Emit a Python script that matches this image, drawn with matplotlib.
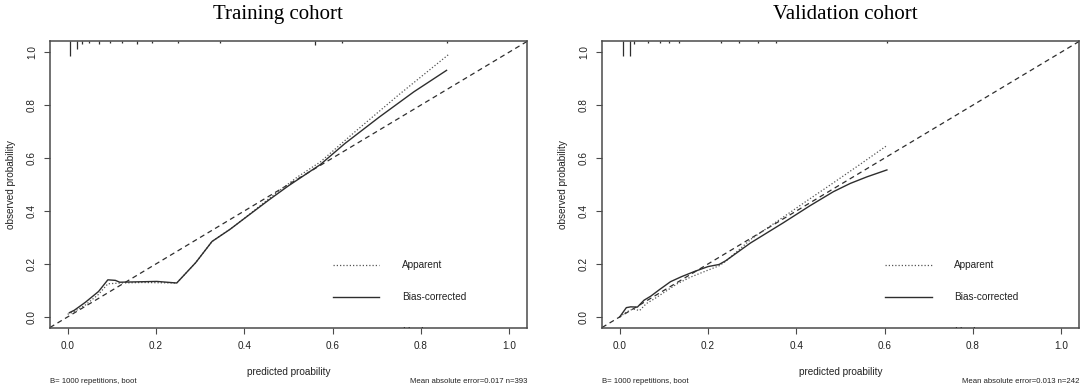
import matplotlib
matplotlib.use("Agg")
import numpy as np
import matplotlib.pyplot as plt

# --- values ---
# training cohort
train_app_x = [0.0, 0.015, 0.04, 0.07, 0.091, 0.12, 0.17, 0.247, 0.29, 0.327, 0.37, 0.40, 0.46, 0.52, 0.572, 0.65, 0.75, 0.862]
train_app_y = [0.010, 0.020, 0.045, 0.085, 0.125, 0.128, 0.130, 0.128, 0.205, 0.285, 0.334, 0.372, 0.452, 0.528, 0.585, 0.698, 0.839, 0.990]
train_bc_x = [0.004, 0.015, 0.040, 0.070, 0.091, 0.108, 0.118, 0.202, 0.247, 0.29, 0.327, 0.368, 0.394, 0.456, 0.50, 0.572, 0.628, 0.706, 0.784, 0.858]
train_bc_y = [0.016, 0.025, 0.055, 0.096, 0.140, 0.138, 0.131, 0.134, 0.128, 0.205, 0.285, 0.331, 0.364, 0.442, 0.495, 0.575, 0.655, 0.755, 0.850, 0.931]
train_rug_x = [0.0045, 0.021, 0.033, 0.048, 0.072, 0.097, 0.123, 0.157, 0.191, 0.251, 0.346, 0.560, 0.621, 0.859]
train_rug_h = [0.055, 0.030, 0.008, 0.006, 0.008, 0.006, 0.006, 0.008, 0.006, 0.006, 0.006, 0.014, 0.006, 0.006]

# validation cohort
valid_app_x = [0.0, 0.015, 0.03, 0.045, 0.06, 0.08, 0.10, 0.13, 0.16, 0.19, 0.225, 0.24, 0.30, 0.36, 0.42, 0.48, 0.54, 0.605]
valid_app_y = [0.0, 0.018, 0.030, 0.024, 0.050, 0.070, 0.092, 0.125, 0.150, 0.170, 0.193, 0.210, 0.297, 0.365, 0.434, 0.502, 0.571, 0.647]
valid_bc_x = [0.0, 0.015, 0.025, 0.04, 0.055, 0.07, 0.09, 0.115, 0.14, 0.17, 0.20, 0.225, 0.24, 0.296, 0.37, 0.431, 0.484, 0.522, 0.56, 0.605]
valid_bc_y = [0.0, 0.035, 0.038, 0.037, 0.063, 0.078, 0.103, 0.133, 0.152, 0.172, 0.190, 0.198, 0.212, 0.279, 0.355, 0.420, 0.473, 0.504, 0.529, 0.555]
valid_rug_x = [0.007, 0.023, 0.033, 0.064, 0.092, 0.111, 0.135, 0.229, 0.269, 0.312, 0.355, 0.606]
valid_rug_h = [0.053, 0.053, 0.008, 0.006, 0.006, 0.006, 0.006, 0.006, 0.006, 0.006, 0.006, 0.006]

titles = ["Training cohort", "Validation cohort"]
notes_right = ["Mean absolute error=0.017 n=393", "Mean absolute error=0.013 n=242"]
note_left = "B= 1000 repetitions, boot"
legend_labels = ["Apparent", "Bias-corrected", "Ideal"]
ticks = [0.0, 0.2, 0.4, 0.6, 0.8, 1.0]

SANS = "Liberation Sans"
FRAME = "#4a4a4a"
LINE = "#2e2e2e"


def draw_panel(ax, app_x, app_y, bc_x, bc_y, rug_x, rug_h, note_r):
    ax.set_xlim(-0.04, 1.04)
    ax.set_ylim(-0.04, 1.04)
    # ideal line
    ax.axline((0, 0), slope=1, color=LINE, lw=0.9, dashes=(4, 3))
    ax.plot(app_x, app_y, color="#555555", lw=0.9, dashes=(1, 1.6))
    ax.plot(bc_x, bc_y, color=LINE, lw=1.0)
    # spikes of predicted values hanging from the top
    ax.vlines(rug_x, 1.04 - np.array(rug_h), 1.04, color=LINE, lw=0.9)

    # legend drawn the R way (third entry falls below the frame)
    ly = [0.197, 0.075, -0.056]
    ax.plot([0.601, 0.706], [ly[0], ly[0]], color="#555555", lw=0.9, dashes=(1, 1.6))
    ax.plot([0.601, 0.706], [ly[1], ly[1]], color=LINE, lw=1.0)
    for lab, yy in zip(legend_labels, ly):
        ax.text(0.757, yy, lab, fontsize=7.2, family=SANS, va="center", ha="left",
                color="#222222", clip_on=True)

    ax.set_xticks(ticks)
    ax.set_yticks(ticks)
    ax.set_xticklabels([f"{t:.1f}" for t in ticks], family=SANS, fontsize=7.2)
    ax.set_yticklabels([f"{t:.1f}" for t in ticks], family=SANS, fontsize=7.2,
                       rotation=90, va="center")
    ax.tick_params(axis="x", length=4.5, width=0.8, color=FRAME, pad=5.5, labelcolor="#222222")
    ax.tick_params(axis="y", length=4.5, width=0.8, color=FRAME, pad=5, labelcolor="#222222")
    for sp in ax.spines.values():
        sp.set_color(FRAME)
        sp.set_linewidth(1.1)

    ax.set_xlabel("predicted proability", family=SANS, fontsize=7.2, color="#222222", labelpad=11)
    ax.set_ylabel("observed probability", family=SANS, fontsize=7.2, color="#222222", labelpad=8)
    ax.text(0.0, -0.19, note_left, transform=ax.transAxes, family=SANS, fontsize=5.6,
            ha="left", va="center", color="#222222")
    ax.text(1.0, -0.19, note_r, transform=ax.transAxes, family=SANS, fontsize=5.6,
            ha="right", va="center", color="#222222")


fig = plt.figure(figsize=(10.84, 3.91), dpi=100)
ax1 = fig.add_axes([0.0461, 0.1624, 0.440, 0.7315])
ax2 = fig.add_axes([0.5554, 0.1624, 0.440, 0.7315])

draw_panel(ax1, train_app_x, train_app_y, train_bc_x, train_bc_y, train_rug_x, train_rug_h, notes_right[0])
draw_panel(ax2, valid_app_x, valid_app_y, valid_bc_x, valid_bc_y, valid_rug_x, valid_rug_h, notes_right[1])

fig.text(0.256, 0.963, titles[0], family="Liberation Serif", fontsize=15, ha="center", va="center")
fig.text(0.780, 0.963, titles[1], family="Liberation Serif", fontsize=15, ha="center", va="center")

fig.savefig("out.png", dpi=100)
